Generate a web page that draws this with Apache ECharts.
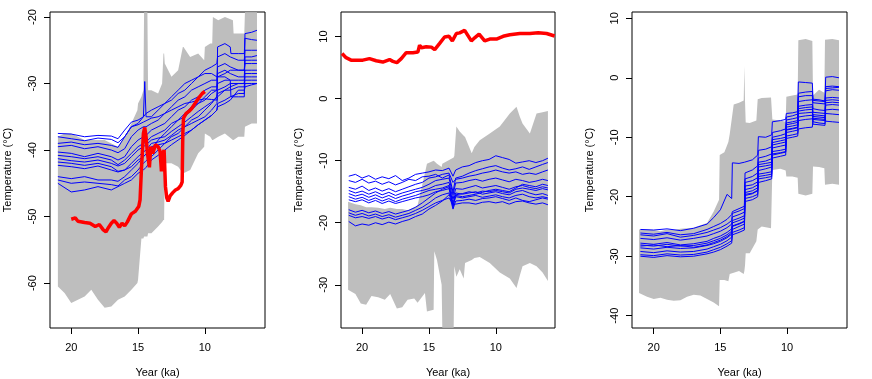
<!DOCTYPE html>
<html>
<head>
<meta charset="utf-8">
<script src="https://cdn.jsdelivr.net/npm/echarts@6/dist/echarts.min.js"></script>
<style>
html, body { margin: 0; background: #fff; }
#chart { width: 872px; height: 379px; }
</style>
</head>
<body>
<div id="chart"></div>
<script>
// tick labels
var xTicks = [20, 15, 10];
var yTicks1 = [-60, -50, -40, -30, -20];
var yTicks2 = [-30, -20, -10, 0, 10];
var yTicks3 = [-40, -30, -20, -10, 0, 10];

// ---- panel 1 ----
// grey ensemble envelope
var tg1 = [21.0, 20.5, 20.0, 19.5, 19.0, 18.5, 18.0, 17.5, 17.0, 16.5, 16.0, 15.5, 15.05, 15.0, 14.75, 14.6, 14.55, 14.3, 14.25, 14.0, 13.5, 13.2, 13.1, 13.05, 13.0, 12.5, 12.0, 11.65, 11.6, 11.1, 10.5, 10.05, 10.0, 9.6, 9.45, 9.4, 9.0, 8.5, 7.9, 7.85, 7.5, 7.05, 7.0, 6.5, 6.1];
var lo1 = [-60.5, -61.5, -63, -62.5, -62, -61, -62.5, -63.7, -63.5, -62.5, -62, -61, -60, -59.5, -53.3, -53.3, -53, -53, -52.5, -52.5, -51.5, -50.8, -50.5, -50.5, -42, -42, -42.5, -43.5, -43.5, -43, -40.5, -39.5, -37.5, -38, -38.5, -38.5, -38, -37.5, -38.5, -38.5, -38, -38, -36.5, -36, -36];
var hi1 = [-38, -37.5, -37.5, -38, -38.5, -38.5, -38.5, -38.5, -39, -39.5, -38, -36, -34, -33, -32, -31, -19.3, -19.3, -31, -31, -31.5, -30, -25.5, -25.5, -27, -29, -28, -24.5, -24.5, -26, -25.5, -26.5, -24.5, -24, -24, -20, -20.5, -20, -20.5, -22.5, -22.5, -22.5, -19.3, -19.3, -19.3];
// blue lines
var xs1 = [21, 20, 19, 18, 17, 16.5, 16, 15.5, 15, 14.6, 14.5, 14.4, 14, 13.5, 13, 12.5, 12, 11.5, 11, 10.5, 10, 9.5, 9.1, 9.05, 8.5, 8.1, 8.05, 7.5, 7.05, 7.0, 6.5, 6.1];
var b1a = [-37.5, -37.6, -38, -37.8, -37.9, -38.3, -37, -35.8, -35.5, -35, -34.8, -34.5, -34, -33.5, -33, -32, -31, -30, -29.5, -29, -28.5, -28.5, -29, -29, -29, -29.5, -32, -32, -32, -22.5, -22.3, -22];
var b1b = [-38, -38.3, -38.6, -38.2, -38.4, -38.9, -38, -36.5, -36.2, -35.8, -35.6, -35.6, -35.2, -35, -34.5, -34, -33.5, -33, -32.8, -32.5, -32.3, -32.4, -32.5, -24.5, -24, -24.5, -25.5, -25.5, -25.5, -23.2, -23.4, -23.5];
var b1c = [-39, -38.8, -39.2, -39, -39.3, -39.6, -38, -36.5, -36, -35, -29.7, -35, -35, -34, -33, -32.5, -31.5, -31, -30, -29, -28, -27.5, -27, -26, -25.5, -26, -26, -26.5, -26.5, -25, -25, -25];
var b1d = [-39.5, -39.3, -39.8, -39.5, -40, -40.4, -39.8, -38, -37, -36.5, -36.5, -36.5, -36, -35.5, -34.5, -33.5, -32.5, -32, -31, -30.5, -30, -29.5, -29.5, -27.5, -27, -27.5, -27.5, -28, -28, -26, -26, -25.8];
var b1e = [-40.3, -40.5, -41, -40.5, -41, -41.5, -41, -39.5, -38.5, -38, -38, -37.8, -37, -36.5, -36, -35, -34, -33.5, -32.5, -32, -31, -30.5, -30.5, -28.5, -28, -28.5, -28.5, -29, -29, -26.5, -26.5, -26.5];
var b1f = [-40.8, -41, -41.3, -41, -41.5, -42.2, -41.5, -40.5, -39.5, -39, -39, -38.8, -38, -37.5, -37, -36, -35.5, -35, -34, -33, -32.5, -31.5, -31, -30, -29.5, -29.5, -29.5, -29.5, -29.5, -28, -28, -28];
var b1g = [-41.3, -41.6, -41.8, -41.5, -42, -42.4, -42, -41, -40, -39.5, -39.3, -39.2, -38.5, -38.2, -38, -37.2, -36.5, -35.8, -35, -34.2, -33.5, -32.8, -32, -31, -30.5, -30, -30, -30, -30, -28.5, -28.5, -28.5];
var b1h = [-41.8, -42, -42.3, -42, -42.5, -43.2, -43, -42, -41, -40.3, -40, -40, -39, -38.8, -38.5, -37.8, -37, -36.5, -36, -35.5, -35, -34, -33, -32, -31, -31, -30.8, -30.5, -30.5, -29.5, -29.5, -29.5];
var b1i = [-42.3, -42.5, -42.8, -42.4, -43, -43.3, -43, -42.5, -41.5, -41, -40.8, -40.6, -39.5, -39.2, -39, -38.5, -38, -37.5, -37, -36.2, -35.5, -34.8, -34, -33, -32.5, -32, -32, -31.5, -31.5, -30, -30, -30];
var b1j = [-44, -44.3, -44, -44.5, -44.5, -44.7, -44, -43, -42, -41, -40.8, -40.6, -40, -38.5, -37.5, -36.5, -35.5, -34.5, -33.5, -33, -32, -31, -31, -29, -28.5, -28, -28, -28, -28, -27, -27, -27];
var b1k = [-44.5, -45, -44.8, -45, -45.2, -45.4, -44.5, -44, -43, -42, -41.8, -41.6, -41, -40, -39, -38, -37.5, -36.5, -35.5, -35, -34, -33, -32, -31.5, -31, -30.5, -30.5, -30, -30, -29, -29, -29];
var b1l = [-45, -46.3, -46, -45.5, -46, -45.5, -45, -44.5, -43.5, -43, -42.8, -42.6, -41.5, -40.8, -40, -39.2, -38.5, -37.8, -37, -36.2, -35.5, -34.8, -34, -33.5, -33, -32.5, -32.5, -31, -31, -30.5, -30.2, -30];
// red record
var tr1 = [20.0, 19.7, 19.5, 19.0, 18.6, 18.2, 17.9, 17.6, 17.4, 17.2, 17.0, 16.8, 16.6, 16.4, 16.2, 16.0, 15.8, 15.5, 15.2, 14.95, 14.85, 14.75, 14.6, 14.5, 14.4, 14.3, 14.15, 14.05, 13.9, 13.7, 13.5, 13.35, 13.25, 13.15, 13.05, 12.95, 12.85, 12.75, 12.6, 12.4, 12.2, 12.0, 11.8, 11.7, 11.65, 11.6, 11.5, 11.4, 11.2, 11.0, 10.8, 10.6, 10.4, 10.2, 10.0];
var r1 = [-50.4, -50.2, -50.7, -50.9, -51.0, -51.5, -51.2, -52.0, -52.3, -51.6, -51.0, -50.6, -51.0, -51.6, -51.0, -51.4, -50.8, -49.6, -49.2, -48.5, -47.5, -43.0, -37.5, -36.6, -38.0, -40.5, -42.6, -39.5, -40.5, -39.2, -39.5, -40.2, -43.2, -40.5, -40.0, -45.5, -47.2, -47.7, -46.9, -46.4, -46.0, -45.8, -45.3, -44.8, -37.5, -35.2, -35.5, -34.5, -34.2, -33.8, -33.2, -32.6, -32.0, -31.5, -31.2];

// ---- panel 2 ----
var tg2 = [21.05, 20.5, 20.1, 19.7, 19.3, 18.8, 18.3, 17.9, 17.4, 17.0, 16.6, 16.1, 15.85, 15.3, 15.15, 14.65, 14.6, 14.4, 14.05, 14.0, 13.15, 13.1, 12.95, 12.7, 12.4, 12.3, 11.8, 11.6, 11.2, 10.45, 9.7, 8.95, 8.45, 8.2, 8.0, 7.45, 6.95, 6.5, 6.1];
var lo2 = [-30.8, -31.5, -33.0, -33.2, -31.8, -32.0, -32.4, -31.5, -33.8, -33.6, -32.4, -32.2, -32.9, -31.3, -34.3, -34.0, -24.6, -26.0, -30.0, -36.9, -36.9, -27.0, -28.7, -27.5, -29.0, -26.5, -26.0, -25.7, -25.5, -26.5, -28.0, -29.0, -30.5, -28.5, -27.0, -26.5, -27.0, -28.0, -29.4];
var hi2 = [-16.6, -17.0, -17.2, -17.5, -17.5, -17.6, -17.8, -17.6, -17.8, -17.8, -18.0, -17.5, -17.2, -12.0, -10.5, -10.0, -10.1, -10.5, -11.0, -10.5, -9.5, -9.2, -4.5, -5.3, -6.0, -6.2, -8.8, -7.8, -6.7, -5.6, -4.5, -2.4, -1.3, -2.9, -4.0, -5.6, -2.4, -2.2, -2.0];
var xs2 = [21, 20.5, 20, 19.5, 19, 18.5, 18, 17.5, 17, 16.5, 16, 15.5, 15, 14.5, 14, 13.5, 13.2, 13, 12.5, 12, 11.5, 11, 10.5, 10, 9.5, 9, 8.5, 8, 7.5, 7, 6.5, 6.1];
var b2a = [-12.5, -12.2, -12.8, -12.4, -13.0, -12.6, -12.9, -12.4, -13.2, -12.8, -12.2, -12.0, -11.8, -11.5, -11.6, -11.2, -12.5, -11.5, -11.0, -10.8, -10.3, -10.0, -9.8, -9.2, -9.5, -9.8, -10.4, -10.2, -10.0, -10.3, -10.0, -9.6];
var b2b = [-13.2, -13.5, -13.0, -13.6, -13.3, -13.8, -13.4, -13.9, -13.5, -13.0, -13.2, -12.6, -12.5, -12.2, -12.8, -12.3, -15.0, -12.8, -12.5, -12.0, -11.6, -11.3, -11.0, -10.8, -11.2, -11.5, -11.3, -11.0, -11.4, -11.0, -10.6, -10.3];
var b2c = [-14.3, -14.6, -14.1, -14.8, -14.4, -14.9, -14.5, -15.0, -14.6, -14.2, -13.8, -13.5, -12.8, -12.6, -12.2, -12.0, -13.5, -13.0, -12.8, -12.5, -12.3, -12.0, -11.8, -11.5, -11.8, -12.0, -11.8, -12.2, -12.0, -12.2, -11.8, -11.5];
var b2d = [-14.8, -15.2, -14.9, -15.4, -15.0, -15.5, -15.1, -15.6, -15.2, -14.9, -14.6, -14.3, -13.8, -13.2, -13.0, -12.8, -15.5, -13.6, -13.5, -13.2, -13.0, -13.3, -13.0, -12.8, -13.1, -13.4, -13.0, -13.2, -13.5, -13.3, -13.0, -13.2];
var b2e = [-15.3, -15.7, -15.4, -15.9, -15.5, -16.0, -15.6, -16.1, -15.7, -15.4, -15.0, -14.8, -14.5, -14.0, -13.8, -13.5, -16.2, -14.5, -14.6, -14.3, -14.0, -14.4, -14.2, -14.0, -14.3, -14.6, -14.2, -14.0, -14.3, -14.5, -14.2, -14.4];
var b2f = [-15.8, -16.2, -15.9, -16.4, -16.0, -16.5, -16.1, -16.6, -16.2, -15.9, -15.6, -15.2, -14.8, -14.6, -14.4, -14.0, -16.8, -15.2, -15.4, -15.2, -15.0, -15.4, -15.2, -15.0, -15.3, -15.5, -15.0, -14.8, -15.2, -15.5, -15.3, -15.6];
var b2g = [-16.3, -16.6, -16.3, -16.8, -16.4, -16.9, -16.5, -16.9, -16.6, -16.3, -16.0, -15.8, -15.5, -15.0, -14.8, -14.5, -17.2, -15.8, -16.0, -15.8, -15.6, -15.9, -15.7, -15.5, -15.8, -16.0, -15.6, -15.4, -15.8, -16.0, -15.8, -16.0];
var b2h = [-17.9, -18.3, -18.0, -18.4, -18.1, -18.5, -18.2, -18.6, -18.3, -18.0, -17.5, -16.8, -16.0, -15.2, -14.6, -14.2, -17.5, -15.5, -15.3, -15.0, -15.2, -14.9, -15.0, -14.8, -15.0, -15.2, -14.6, -14.4, -14.6, -14.8, -14.5, -14.7];
var b2i = [-18.4, -18.8, -18.5, -18.9, -18.6, -19.0, -18.7, -19.1, -18.8, -18.5, -18.0, -17.5, -16.8, -16.0, -15.5, -15.2, -17.8, -16.5, -16.4, -16.2, -16.4, -16.1, -16.0, -15.8, -16.1, -16.4, -16.0, -16.4, -16.6, -16.3, -16.0, -16.2];
var b2j = [-18.8, -19.2, -19.0, -19.3, -19.0, -19.4, -19.1, -19.5, -19.2, -18.9, -18.5, -18.0, -17.4, -16.8, -16.4, -16.0, -17.0, -17.0, -16.8, -16.8, -17.0, -16.7, -16.6, -16.8, -16.6, -17.0, -16.6, -16.5, -16.8, -17.0, -16.8, -17.1];
var b2k = [-19.8, -20.5, -20.2, -20.4, -20.0, -20.3, -19.9, -20.2, -19.8, -19.5, -19.0, -18.6, -17.8, -17.2, -16.5, -15.5, -16.0, -15.6, -15.8, -15.6, -15.4, -15.1, -14.8, -14.6, -14.8, -15.0, -14.4, -13.8, -14.0, -14.2, -13.8, -14.0];
var tr2 = [21.5, 21.2, 20.83, 20.45, 19.95, 19.45, 18.95, 18.45, 17.95, 17.7, 17.4, 17.07, 16.7, 16.2, 15.83, 15.7, 15.57, 15.2, 14.82, 14.57, 14.2, 13.83, 13.5, 13.25, 12.95, 12.7, 12.33, 11.83, 11.58, 11.25, 10.83, 10.45, 9.95, 9.45, 8.95, 8.2, 7.45, 6.83, 6.2, 5.6];
var r2 = [7.26, 6.6, 6.2, 6.2, 6.2, 6.45, 6.1, 5.9, 6.3, 6.0, 5.8, 6.45, 7.4, 7.4, 7.5, 8.6, 8.2, 8.35, 8.3, 7.9, 8.9, 9.94, 10.05, 9.3, 10.5, 10.6, 11.0, 9.3, 9.8, 10.4, 9.3, 9.6, 9.6, 10.05, 10.3, 10.5, 10.5, 10.6, 10.5, 10.1];

// ---- panel 3 ----
var tg3 = [21.1, 20.5, 20, 19.5, 19, 18.5, 18, 17.5, 17, 16.5, 16, 15.5, 15.1, 15.05, 14.7, 14.4, 14.3, 14.0, 13.6, 13.25, 13.2, 13.15, 13.1, 12.8, 12.3, 12.2, 11.9, 11.2, 11.1, 10.5, 10.1, 10.05, 9.6, 9.2, 9.15, 8.6, 8.1, 8.05, 7.6, 7.2, 7.15, 6.6, 6.1];
var lo3 = [-36.2, -36.8, -37.2, -37.0, -37.3, -37.5, -37.4, -36.8, -36.5, -36.6, -37.2, -37.8, -38.4, -34.0, -34.0, -34.2, -33.0, -32.8, -32.5, -33.0, -32.5, -31.5, -29.5, -29.5, -27.5, -25.5, -25.0, -25.3, -15.5, -15.3, -15.6, -16.6, -16.6, -16.8, -19.5, -19.8, -19.5, -14.9, -15.0, -15.2, -18.0, -17.8, -18.0];
var hi3 = [-25.5, -25.5, -25.6, -25.8, -25.5, -25.6, -25.4, -25.3, -25.2, -24.8, -24.4, -22.5, -20.5, -13.0, -12.5, -10.8, -9.5, -4.5, -4.2, -3.8, 2.0, -4.0, -7.5, -7.6, -7.2, -3.6, -3.4, -3.3, -7.0, -7.2, -7.4, -3.2, -3.0, -2.8, 6.3, 6.5, 6.2, -3.0, -2.0, -2.5, 6.4, 6.5, 6.3];
var xs3 = [21, 20, 19, 18, 17, 16, 15.5, 15, 14.5, 14.15, 14.1, 13.6, 13.2, 13.15, 12.6, 12.2, 12.15, 11.6, 11.15, 11.1, 10.5, 10.1, 10.05, 9.6, 9.2, 9.15, 8.6, 8.1, 8.05, 7.6, 7.15, 7.1, 6.6, 6.1];
var b3a = [-25.5, -25.6, -25.4, -25.7, -25.3, -24.6, -23.5, -22.2, -19.6, -20.3, -14.3, -14.4, -14.2, -14.0, -13.8, -13.0, -9.9, -10.0, -9.6, -7.4, -7.2, -7.0, -6.0, -5.9, -5.7, -0.7, -0.8, -0.9, -3.6, -3.7, -3.9, 0.1, 0.2, 0.0];
var b3b = [-26.1, -26.3, -26.0, -26.4, -26.2, -25.5, -25.0, -24.5, -23.8, -23.0, -22.5, -22.0, -21.6, -16.0, -15.5, -14.8, -12.2, -12.0, -11.6, -9.2, -8.9, -8.6, -6.6, -6.4, -6.1, -2.6, -2.4, -2.3, -3.8, -3.9, -4.0, -1.5, -1.4, -1.5];
var b3c = [-26.4, -26.6, -26.2, -26.8, -26.5, -26.0, -25.6, -25.2, -24.6, -24.0, -22.8, -22.4, -22.0, -17.0, -16.6, -16.0, -13.5, -13.2, -12.8, -10.0, -9.7, -9.4, -7.1, -6.9, -6.7, -3.2, -3.0, -3.0, -5.2, -5.4, -5.5, -1.8, -1.7, -1.6];
var b3d = [-27.0, -27.2, -26.9, -27.3, -27.0, -26.6, -26.2, -25.8, -25.2, -24.6, -23.4, -23.0, -22.6, -17.6, -17.3, -16.8, -14.2, -14.0, -13.6, -10.4, -10.2, -10.0, -7.6, -7.4, -7.2, -4.0, -3.8, -3.7, -4.2, -4.3, -4.4, -2.2, -2.0, -2.1];
var b3e = [-27.8, -28.0, -27.7, -28.1, -27.9, -27.5, -27.0, -26.6, -26.0, -25.4, -24.0, -23.6, -23.2, -18.2, -18.0, -17.5, -14.6, -14.4, -14.2, -10.9, -10.6, -10.4, -7.9, -7.7, -7.5, -4.8, -4.6, -4.5, -5.8, -5.9, -6.0, -3.4, -3.3, -3.4];
var b3f = [-28.1, -28.3, -28.0, -28.3, -28.2, -27.8, -27.4, -27.0, -26.4, -25.8, -24.4, -24.0, -23.6, -18.8, -18.5, -18.0, -15.0, -14.8, -14.6, -11.3, -11.0, -10.8, -8.3, -8.1, -7.9, -5.2, -5.0, -4.9, -6.5, -6.6, -6.7, -3.8, -3.7, -3.8];
var b3g = [-28.6, -28.8, -28.5, -28.7, -28.6, -28.2, -27.9, -27.5, -26.9, -26.3, -24.9, -24.5, -24.1, -19.3, -19.0, -18.5, -15.6, -15.3, -15.0, -11.8, -11.5, -11.3, -8.7, -8.5, -8.3, -5.6, -5.4, -5.3, -7.0, -7.1, -7.2, -4.2, -4.1, -4.2];
var b3h = [-29.2, -29.4, -29.1, -29.3, -29.2, -28.8, -28.4, -28.0, -27.4, -26.8, -25.5, -25.0, -24.6, -19.8, -19.5, -19.0, -16.2, -16.0, -15.8, -12.4, -12.2, -12.0, -9.2, -9.0, -8.8, -6.0, -5.9, -5.8, -7.4, -7.6, -7.7, -4.6, -4.5, -4.6];
var b3i = [-29.75, -29.9, -29.6, -29.8, -29.7, -29.3, -28.9, -28.5, -27.9, -27.4, -26.0, -25.6, -25.2, -20.3, -20.0, -19.6, -17.0, -16.8, -16.6, -13.0, -12.7, -12.5, -9.8, -9.6, -9.4, -6.6, -6.4, -6.3, -7.8, -7.9, -8.0, -5.4, -5.3, -5.4];
var b3j = [-30.0, -30.2, -29.9, -30.1, -30.0, -29.6, -29.3, -28.9, -28.3, -27.8, -26.4, -26.0, -25.6, -20.8, -20.5, -20.0, -17.6, -17.3, -17.0, -13.5, -13.2, -13.0, -10.2, -10.0, -9.8, -8.6, -8.4, -8.3, -6.8, -6.9, -7.0, -6.0, -6.1, -6.2];
var b3k = [-28.3, -28.1, -28.4, -28.2, -28.5, -28.1, -27.7, -27.3, -26.7, -26.1, -25.0, -24.6, -24.2, -19.6, -19.4, -18.9, -16.6, -16.4, -16.2, -12.8, -12.6, -12.4, -8.8, -8.6, -8.4, -7.2, -7.0, -6.9, -6.2, -6.3, -6.4, -7.3, -7.4, -7.5];

var chartDom = document.getElementById('chart');
var myChart = echarts.init(chartDom);

var font = 'Liberation Sans, Arial, sans-serif';

function band(idx, t, lo, hi) {
	return {
		type: 'custom',
		xAxisIndex: idx,
		yAxisIndex: idx,
		silent: true,
		z: 1,
		data: t.map(function (v, i) { return [v, lo[i], hi[i]]; }),
		encode: { x: 0, y: [1, 2] },
		renderItem: function (params, api) {
			if (params.dataIndex !== 0) return;
			var pts = [];
			for (var i = 0; i < t.length; i++) pts.push(api.coord([t[i], hi[i]]));
			for (var j = t.length - 1; j >= 0; j--) pts.push(api.coord([t[j], lo[j]]));
			return { type: 'polygon', shape: { points: pts }, style: { fill: '#bebebe' } };
		}
	};
}

function line(idx, xs, ys, color, width, z) {
	return {
		type: 'line',
		xAxisIndex: idx,
		yAxisIndex: idx,
		silent: true,
		showSymbol: false,
		symbol: 'none',
		z: z,
		data: xs.map(function (x, i) { return [x, ys[i]]; }),
		lineStyle: { color: color, width: width }
	};
}

function xAx(idx, min, max) {
	return {
		gridIndex: idx, type: 'value', inverse: true, min: min, max: max,
		axisLine: { show: false, onZero: false },
		splitLine: { show: false },
		axisTick: { show: true, length: 6, lineStyle: { color: '#000' }, customValues: xTicks },
		axisLabel: { customValues: xTicks, color: '#000', fontSize: 11, fontFamily: font, margin: 14 },
		name: 'Year (ka)', nameLocation: 'middle', nameGap: 39,
		nameTextStyle: { color: '#000', fontSize: 11, fontFamily: font }
	};
}

function yAx(idx, min, max, ticks) {
	return {
		gridIndex: idx, type: 'value', min: min, max: max,
		axisLine: { show: false, onZero: false },
		splitLine: { show: false },
		axisTick: { show: true, length: 6, lineStyle: { color: '#000' }, customValues: ticks },
		axisLabel: { customValues: ticks, color: '#000', fontSize: 11, fontFamily: font, rotate: 90, margin: 12 },
		name: 'Temperature (°C)', nameLocation: 'middle', nameGap: 37,
		nameTextStyle: { color: '#000', fontSize: 11, fontFamily: font }
	};
}

var gridStyle = { show: true, borderColor: '#000', borderWidth: 1, backgroundColor: 'transparent', containLabel: false, outerBoundsMode: 'none' };

var blue = '#0000ff';
var red = '#ff0000';

var series = [
	band(0, tg1, lo1, hi1),
	band(1, tg2, lo2, hi2),
	band(2, tg3, lo3, hi3)
];
[b1a, b1b, b1c, b1d, b1e, b1f, b1g, b1h, b1i, b1j, b1k, b1l].forEach(function (b) { series.push(line(0, xs1, b, blue, 1, 2)); });
[b2a, b2b, b2c, b2d, b2e, b2f, b2g, b2h, b2i, b2j, b2k].forEach(function (b) { series.push(line(1, xs2, b, blue, 1, 2)); });
[b3a, b3b, b3c, b3d, b3e, b3f, b3g, b3h, b3i, b3j, b3k].forEach(function (b) { series.push(line(2, xs3, b, blue, 1, 2)); });
series.push(line(0, tr1, r1, red, 3.5, 3));
series.push(line(1, tr2, r2, red, 3.5, 3));

var options = {
	animation: false,
	backgroundColor: '#fff',
	grid: [
		Object.assign({ left: 50, top: 12, width: 215, height: 316 }, gridStyle),
		Object.assign({ left: 341, top: 12, width: 214, height: 316 }, gridStyle),
		Object.assign({ left: 632, top: 12, width: 215, height: 316 }, gridStyle)
	],
	xAxis: [
		xAx(0, 5.5, 21.59),
		xAx(1, 5.57, 21.58),
		xAx(2, 5.5, 21.63)
	],
	yAxis: [
		yAx(0, -66.75, -19.25, yTicks1),
		yAx(1, -36.96, 13.96, yTicks2),
		yAx(2, -42.07, 11.06, yTicks3)
	],
	series: series
};

myChart.setOption(options);
</script>
</body>
</html>
